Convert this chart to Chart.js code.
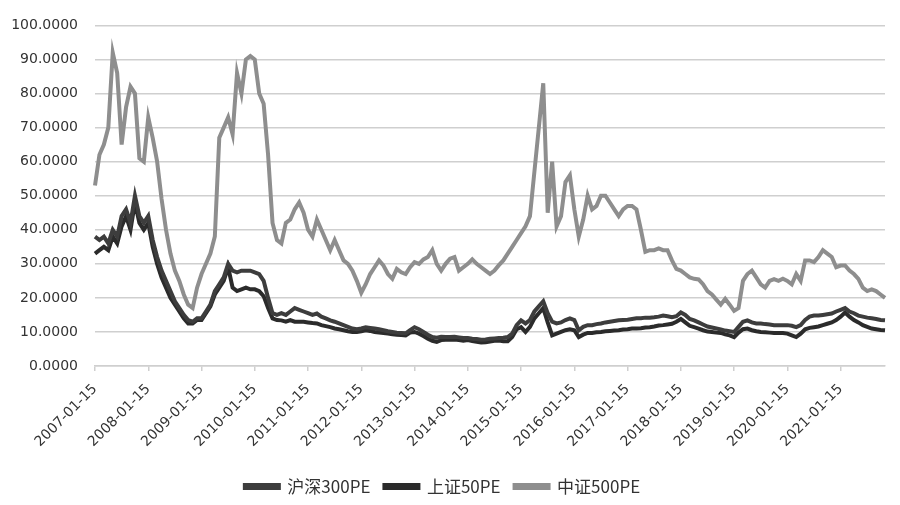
<!DOCTYPE html>
<html>
<head>
<meta charset="utf-8">
<script src="https://cdn.jsdelivr.net/npm/chart.js@4"></script>
<style>
  html, body { margin: 0; padding: 0; background: #fff; }
  #wrap { width: 900px; height: 505px; position: relative; }
</style>
</head>
<body>
<div id="wrap"><canvas id="chart1"></canvas></div>
<script>
// monthly dates, 2007-01-15 .. 2021-11-15
const dates = []
for (let y = 2007; y <= 2021; y++) {
    for (let m = 1; m <= 12; m++) {
        if (y === 2021 && m > 11) break
        dates.push(y + '-' + String(m).padStart(2, '0') + '-15')
    }
}

const seriesNames = ['沪深300PE', '上证50PE', '中证500PE']

// 沪深300PE
const hs300 = [
    38, 37, 38, 36, 40, 38, 44, 46, 42, 50, 44, 42,            // 2007
    44, 37, 32, 28, 25, 22, 19, 17, 15, 13.5, 13, 14,          // 2008
    14, 16, 18, 22, 24, 26, 30, 28, 27.5, 28, 28, 28,          // 2009
    27.5, 27, 25, 20, 15.5, 15, 15.5, 15, 16, 17, 16.5, 16,    // 2010
    15.5, 15, 15.4, 14.5, 14, 13.4, 13, 12.5, 12, 11.5, 11, 10.8, // 2011
    11, 11.4, 11.2, 11, 10.8, 10.5, 10.2, 10, 9.8, 9.7, 9.6, 10.5, // 2012
    11.4, 10.8, 10, 9.2, 8.5, 8.3, 8.6, 8.5, 8.5, 8.6, 8.4, 8.2,   // 2013
    8.2, 8, 7.9, 7.7, 7.8, 8, 8.1, 8.2, 8.3, 8.5, 9.5, 12,         // 2014
    13.4, 12.5, 13.5, 16, 17.5, 19, 15.5, 13, 12.5, 12.8, 13.5, 14, // 2015
    13.5, 10.5, 11.5, 12, 12, 12.3, 12.5, 12.8, 13, 13.2, 13.4, 13.5, // 2016
    13.6, 13.8, 14, 14, 14.2, 14.2, 14.3, 14.5, 14.8, 14.6, 14.3, 14.6, // 2017
    15.7, 15, 13.8, 13.4, 12.8, 12.2, 11.6, 11.3, 11, 10.7, 10.4, 10.2, // 2018
    10, 11.5, 13, 13.4, 12.8, 12.5, 12.5, 12.3, 12.2, 12, 12, 12,   // 2019
    12, 11.8, 11.4, 12, 13.5, 14.5, 14.8, 14.8, 15, 15.2, 15.4, 16, // 2020
    16.5, 17, 16, 15.5, 14.8, 14.5, 14.2, 14, 13.8, 13.5, 13.4      // 2021
]

// 上证50PE
const sz50 = [
    33, 34, 35, 34, 38, 36, 41, 44, 40, 48, 42, 40,
    42, 35, 30, 26, 23, 20, 18, 16, 14, 12.5, 12.5, 13.5,
    13.5, 15.5, 17.5, 21, 23, 25, 29, 23, 22, 22.5, 23, 22.5,
    22.5, 22, 20.5, 17, 14, 13.5, 13.4, 13, 13.5, 13, 13, 13,
    12.8, 12.6, 12.5, 12, 11.7, 11.4, 11, 10.8, 10.5, 10.2, 10, 10,
    10.2, 10.5, 10.3, 10, 9.8, 9.7, 9.5, 9.3, 9.2, 9.1, 9, 9.8,
    10, 9.5, 8.8, 8, 7.4, 7.1, 7.6, 7.7, 7.7, 7.8, 7.6, 7.4,
    7.6, 7.3, 7.1, 6.9, 7, 7.2, 7.4, 7.5, 7.3, 7.3, 8.5, 10.8,
    11.4, 10, 11.5, 14, 15.5, 17, 12.8, 9, 9.5, 10, 10.5, 10.8,
    10.5, 8.5, 9.2, 9.7, 9.7, 9.9, 10, 10.2, 10.3, 10.4, 10.5, 10.7,
    10.8, 11, 11, 11.1, 11.3, 11.4, 11.6, 11.9, 12, 12.2, 12.4, 13,
    13.8, 12.8, 11.8, 11.4, 11, 10.5, 10.1, 10, 9.8, 9.7, 9.3, 9,
    8.5, 9.8, 10.8, 11, 10.5, 10.2, 10, 9.9, 9.8, 9.7, 9.7, 9.7,
    9.5, 9, 8.5, 9.5, 10.8, 11.2, 11.4, 11.6, 12, 12.4, 12.8, 13.5,
    14.5, 15.7, 14.5, 13.5, 12.8, 12, 11.5, 11, 10.8, 10.6, 10.5
]

// 中证500PE
const zz500 = [
    53, 62, 65, 70, 92, 86, 65, 76, 82, 80, 61, 60,
    73, 67, 60, 49, 40, 33, 28, 25, 21, 18, 17, 23,
    27, 30, 33, 38, 67, 70, 73, 68, 86, 80, 90, 91,
    90, 80, 77, 62, 42, 37, 36, 42, 43, 46, 48, 45,
    40, 38, 43, 40, 37, 34, 37, 34, 31, 30, 28, 25,
    21.5, 24, 27, 29, 31, 29.5, 27, 25.6, 28.5, 27.5, 27, 29,
    30.5, 30, 31.3, 32, 34, 30, 28, 30, 31.5, 32, 28, 29,
    30, 31.3, 30, 29, 28, 27, 28, 29.6, 31, 33, 35, 37,
    39, 41, 44, 57, 70, 83, 45, 60, 41, 44, 54, 56,
    46, 38, 43, 50, 46, 47, 50, 50, 48, 46, 44, 46,
    47, 47, 46, 40, 33.5, 34, 34, 34.5, 34, 34, 31, 28.5,
    28, 27, 26, 25.6, 25.4, 24, 22, 21, 19.5, 18, 19.7, 18,
    16.2, 17, 25, 27, 28, 26, 24, 23, 25, 25.5, 25, 25.6,
    25, 24, 27, 25, 31, 31, 30.5, 32, 34, 33, 32, 29,
    29.5, 29.5, 28, 27, 25.6, 23, 22, 22.5, 22, 21, 20
]

const lineColors = ['#3d3d3d', '#2b2b2b', '#8e8e8e']

const axisFont = { family: 'DejaVu Sans', size: 14 }

let chart = new Chart('chart1', {
    type: 'line',
    data: {
        labels: dates,
        datasets: [hs300, sz50, zz500].map((vals, k) => ({
            label: seriesNames[k],
            data: vals,
            borderColor: lineColors[k],
            backgroundColor: lineColors[k],
            borderWidth: 4,
            pointRadius: 0,
            tension: 0
        }))
    },
    options: {
        responsive: true,
        maintainAspectRatio: false,
        animation: false,
        layout: {
            padding: { top: 16, right: 15, left: 0, bottom: 0 }
        },
        scales: {
            x: {
                ticks: {
                    autoSkip: false,
                    minRotation: 45,
                    maxRotation: 45,
                    padding: 10,
                    color: '#333',
                    font: axisFont,
                    callback: function (value) {
                        const l = this.getLabelForValue(value)
                        return l.slice(5, 7) === '01' ? l : null
                    }
                },
                grid: {
                    drawOnChartArea: false,
                    drawTicks: true,
                    tickLength: 5,
                    color: '#cfcfcf',
                    lineWidth: 1.5
                },
                border: { display: true, color: '#cfcfcf', width: 1.5 },
                afterFit: (scale) => { scale.height = 98 }
            },
            y: {
                min: 0,
                max: 100,
                ticks: {
                    stepSize: 10,
                    padding: 17,
                    color: '#333',
                    font: axisFont,
                    callback: (v) => v.toFixed(4)
                },
                grid: {
                    color: '#cfcfcf',
                    lineWidth: 1.5,
                    drawTicks: false
                },
                border: { display: false },
                afterFit: (scale) => { scale.width = 95 }
            }
        },
        plugins: {
            legend: {
                position: 'bottom',
                labels: {
                    boxWidth: 34,
                    boxHeight: 3,
                    padding: 14,
                    color: '#333',
                    font: { family: 'Noto Sans CJK SC', size: 17 }
                }
            },
            tooltip: { enabled: false }
        }
    }
})
</script>
</body>
</html>
